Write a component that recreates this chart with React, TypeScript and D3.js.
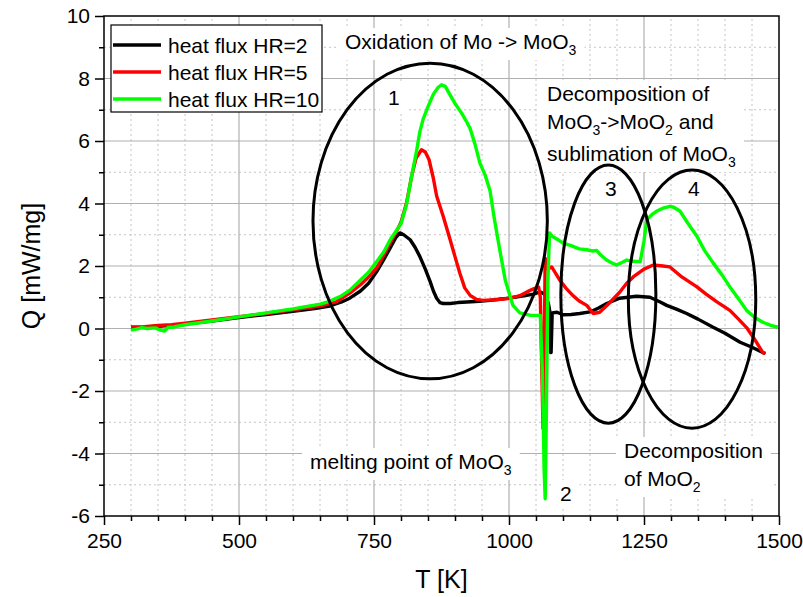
import React, { useEffect, useRef } from 'react';
import * as d3 from 'd3';

type Pt = [number, number];

// T [K], Q [mW/mg]
const hr2: Pt[] = [
  [300, 0.03], [325, 0.04], [350, 0.07], [375, 0.1], [400, 0.14], [450, 0.24], [500, 0.35],
  [550, 0.45], [600, 0.55], [640, 0.64], [668, 0.72], [690, 0.85], [705, 0.97], [725, 1.2],
  [740, 1.45], [755, 1.82], [768, 2.2], [780, 2.58], [790, 2.9], [798, 3.06], [805, 3.0],
  [817, 2.84], [826, 2.6], [835, 2.3], [845, 1.9], [854, 1.5], [860, 1.2], [866, 0.97],
  [872, 0.83], [878, 0.8], [891, 0.8], [905, 0.83], [922, 0.85], [945, 0.87], [965, 0.9],
  [990, 0.95], [1010, 1.0], [1030, 1.05], [1045, 1.1], [1058, 1.17], [1066, 1.1], [1073, 0.8],
  [1076, 0.5], [1077, -0.77], [1078, -0.77], [1080, 0.5], [1089, 0.52], [1100, 0.44],
  [1115, 0.45], [1131, 0.48], [1150, 0.53], [1165, 0.65], [1181, 0.8], [1205, 0.97],
  [1236, 1.03], [1261, 1.0], [1280, 0.85], [1292, 0.74], [1310, 0.62], [1329, 0.48],
  [1350, 0.3], [1378, 0.04], [1400, -0.15], [1428, -0.44], [1450, -0.6], [1470, -0.77],
  [1475, -0.8],
];

const hr5: Pt[] = [
  [300, 0.05], [325, 0.06], [350, 0.1], [375, 0.12], [400, 0.17], [450, 0.27], [500, 0.38],
  [550, 0.48], [600, 0.6], [650, 0.72], [680, 0.85], [705, 1.13], [725, 1.4], [740, 1.65],
  [755, 1.94], [768, 2.35], [780, 2.74], [790, 3.05], [800, 3.4], [810, 4.0], [820, 4.9],
  [828, 5.45], [838, 5.72], [845, 5.65], [852, 5.4], [860, 4.8], [866, 4.24], [878, 3.6],
  [891, 2.84], [900, 2.3], [909, 1.77], [918, 1.3], [928, 1.06], [940, 0.93], [952, 0.9],
  [975, 0.92], [1002, 0.97], [1020, 1.05], [1039, 1.22], [1050, 1.3], [1055, 1.32],
  [1058, 1.0], [1061, -1.5], [1063, -3.2], [1065, -1.0], [1067, 2.25], [1069, 2.0],
  [1072, 1.9], [1079, 1.97], [1087, 1.75], [1094, 1.55], [1105, 1.3], [1118, 1.06],
  [1130, 0.88], [1144, 0.74], [1156, 0.48], [1168, 0.52], [1185, 0.8], [1205, 1.16],
  [1218, 1.45], [1230, 1.65], [1250, 1.9], [1267, 2.03], [1285, 2.0], [1298, 1.97],
  [1320, 1.65], [1348, 1.33], [1365, 1.1], [1385, 0.85], [1409, 0.58], [1425, 0.3],
  [1440, 0.03], [1455, -0.35], [1470, -0.77], [1475, -0.8],
];

const hr10: Pt[] = [
  [300, -0.05], [310, -0.02], [320, 0.03], [330, 0.0], [345, 0.02], [355, -0.05], [362, -0.08],
  [368, 0.03], [380, 0.05], [400, 0.12], [450, 0.24], [500, 0.37], [550, 0.5], [600, 0.63],
  [650, 0.78], [668, 0.87], [690, 1.05], [705, 1.22], [725, 1.55], [740, 1.8], [755, 2.14],
  [768, 2.45], [780, 2.84], [790, 3.1], [800, 3.35], [810, 3.95], [820, 4.9], [829, 5.7],
  [835, 6.3], [841, 6.7], [850, 7.1], [860, 7.5], [869, 7.72], [875, 7.8], [882, 7.75],
  [890, 7.5], [900, 7.2], [912, 6.9], [922, 6.6], [928, 6.4], [937, 5.9], [946, 5.3],
  [956, 4.9], [965, 4.4], [972, 3.6], [980, 2.8], [993, 1.55], [1007, 0.75], [1020, 0.5],
  [1040, 0.42], [1058, 0.42], [1062, -1.5], [1065, -4.5], [1067, -5.45], [1069, -3.0],
  [1072, 1.5], [1075, 3.06], [1080, 2.95], [1090, 2.85], [1100, 2.73], [1115, 2.65],
  [1130, 2.55], [1144, 2.52], [1155, 2.48], [1162, 2.5], [1170, 2.35], [1180, 2.2],
  [1190, 2.1], [1199, 2.03], [1210, 2.12], [1218, 2.19], [1230, 2.15], [1243, 2.14],
  [1250, 2.8], [1255, 3.48], [1265, 3.65], [1273, 3.75], [1285, 3.85], [1298, 3.91],
  [1305, 3.88], [1317, 3.75], [1330, 3.4], [1348, 2.95], [1362, 2.5], [1378, 2.1],
  [1395, 1.7], [1409, 1.33], [1425, 0.95], [1440, 0.58], [1455, 0.35], [1470, 0.2],
  [1485, 0.1], [1498, 0.04],
];

const seriesNames = ['heat flux HR=2', 'heat flux HR=5', 'heat flux HR=10'];
const seriesColors = ['#000000', '#ff0000', '#00ff00'];

const xTicks = [250, 500, 750, 1000, 1250, 1500];
const yTicks = [-6, -4, -2, 0, 2, 4, 6, 8, 10];

// circled regions: centre T, centre Q, half width (K), half height (mW/mg)
const regions: [number, number, number, number][] = [
  [854, 3.44, 217, 5.05],
  [1184, 1.1, 88, 4.13],
  [1339, 0.94, 118, 4.13],
];

const FONT = '"Liberation Sans", Arial, sans-serif';

// text parts: [string, subscript?]
type Part = [string, boolean?];
const notes: { x: number; y: number; lines: Part[][] }[] = [
  { x: 345, y: 49, lines: [[['Oxidation of Mo -> MoO'], ['3', true]]] },
  { x: 388, y: 105, lines: [[['1']]] },
  {
    x: 547, y: 101, lines: [
      [['Decomposition of']],
      [['MoO'], ['3', true], ['->MoO'], ['2', true], [' and']],
      [['sublimation of MoO'], ['3', true]],
    ],
  },
  { x: 605, y: 196, lines: [[['3']]] },
  { x: 688, y: 196, lines: [[['4']]] },
  { x: 310, y: 469, lines: [[['melting point of MoO'], ['3', true]]] },
  { x: 560, y: 501, lines: [[['2']]] },
  { x: 624, y: 458, lines: [[['Decomposition']], [['of MoO'], ['2', true]]] },
];
const lineGaps = [0, 28, 60];

const App = () => {
  const svgRef = useRef<SVGSVGElement>(null);

  useEffect(() => {
    const svg = d3.select(svgRef.current);
    svg.selectAll('*').remove();

    const width = 803;
    const height = 597;
    const margin = { top: 16, right: 24, bottom: 81, left: 104 };
    const x = d3.scaleLinear().domain([250, 1500]).range([margin.left, width - margin.right]);
    const y = d3.scaleLinear().domain([-6, 10]).range([height - margin.bottom, margin.top]);
    const [x0, x1] = x.range();
    const [y0, y1] = y.range();

    // grid
    const grid = svg.append('g');
    const xMinor = d3.range(300, 1500, 50).filter(v => v % 250 !== 0);
    const yMinor = d3.range(-5, 10, 2);
    grid.selectAll('.xm').data(xMinor).enter().append('line')
      .attr('x1', d => x(d)).attr('x2', d => x(d)).attr('y1', y0).attr('y2', y1)
      .style('stroke', '#c4c4c4').style('stroke-dasharray', '2,3');
    grid.selectAll('.ym').data(yMinor).enter().append('line')
      .attr('y1', d => y(d)).attr('y2', d => y(d)).attr('x1', x0).attr('x2', x1)
      .style('stroke', '#c4c4c4').style('stroke-dasharray', '2,3');
    grid.selectAll('.xM').data(xTicks.slice(1, -1)).enter().append('line')
      .attr('x1', d => x(d)).attr('x2', d => x(d)).attr('y1', y0).attr('y2', y1)
      .style('stroke', '#b0b0b0').style('stroke-width', 1.2);
    grid.selectAll('.yM').data(yTicks.slice(1, -1)).enter().append('line')
      .attr('y1', d => y(d)).attr('y2', d => y(d)).attr('x1', x0).attr('x2', x1)
      .style('stroke', '#b0b0b0').style('stroke-width', 1.2);

    const bgLayer = svg.append('g');
    const curveLayer = svg.append('g');
    const ellipseLayer = svg.append('g');
    const textLayer = svg.append('g');

    // curves
    const line = d3.line<Pt>().x(d => x(d[0])).y(d => y(d[1]));
    [hr2, hr5, hr10].forEach((s, i) => {
      curveLayer.append('path')
        .attr('d', line(s))
        .style('fill', 'none')
        .style('stroke', seriesColors[i])
        .style('stroke-width', 3.4)
        .style('stroke-linejoin', 'round');
    });

    // ellipses
    ellipseLayer.selectAll('ellipse').data(regions).enter().append('ellipse')
      .attr('cx', d => x(d[0]))
      .attr('cy', d => y(d[1]))
      .attr('rx', d => x(d[0] + d[2]) - x(d[0]))
      .attr('ry', d => y(d[1] - d[3]) - y(d[1]))
      .style('fill', 'none')
      .style('stroke', '#000')
      .style('stroke-width', 3);

    // annotations with white backing
    notes.forEach(n => {
      const g = textLayer.append('g');
      n.lines.forEach((ln, li) => {
        const t = g.append('text')
          .attr('x', n.x).attr('y', n.y + lineGaps[li])
          .style('font-family', FONT).style('font-size', '21px')
          .style('white-space', 'pre').style('fill', '#000');
        let low = false;
        ln.forEach(([str, sub]) => {
          const ts = t.append('tspan').text(str);
          if (sub && !low) { ts.attr('dy', 6).style('font-size', '14px'); low = true; }
          else if (sub) ts.style('font-size', '14px');
          else if (low) { ts.attr('dy', -6); low = false; }
        });
      });
      const bb = (g.node() as SVGGElement).getBBox();
      bgLayer.append('rect')
        .attr('x', bb.x - 8).attr('y', bb.y - 2)
        .attr('width', bb.width + 16).attr('height', bb.height + 4)
        .style('fill', '#fff');
    });

    // frame
    svg.append('rect')
      .attr('x', x0).attr('y', y1).attr('width', x1 - x0).attr('height', y0 - y1)
      .style('fill', 'none').style('stroke', '#000').style('stroke-width', 1.5);

    // axes
    const styleAxis = (g: any) => {
      g.select('.domain').remove();
      g.selectAll('line').style('stroke', '#000').style('stroke-width', 1.5);
      g.selectAll('text').style('font-family', FONT).style('font-size', '21px').style('fill', '#000');
    };
    svg.append('g').attr('transform', `translate(0,${y0})`)
      .call(d3.axisBottom(x).tickValues(xTicks).tickSize(9).tickPadding(8).tickFormat(d => String(d)))
      .call(styleAxis);
    svg.append('g').attr('transform', `translate(0,${y0})`)
      .call(d3.axisBottom(x).tickValues(xMinor).tickSize(5).tickFormat(() => ''))
      .call(styleAxis);
    svg.append('g').attr('transform', `translate(${x0},0)`)
      .call(d3.axisLeft(y).tickValues(yTicks).tickSize(9).tickPadding(5).tickFormat(d => String(d)))
      .call(styleAxis);
    svg.append('g').attr('transform', `translate(${x0},0)`)
      .call(d3.axisLeft(y).tickValues(yMinor).tickSize(5).tickFormat(() => ''))
      .call(styleAxis);

    // axis titles
    svg.append('text')
      .attr('x', (x0 + x1) / 2).attr('y', 588)
      .attr('text-anchor', 'middle')
      .style('font-family', FONT).style('font-size', '25px')
      .text('T [K]');
    svg.append('text')
      .attr('transform', `translate(40,${(y0 + y1) / 2}) rotate(-90)`)
      .attr('text-anchor', 'middle')
      .style('font-family', FONT).style('font-size', '25px')
      .text('Q [mW/mg]');

    // legend
    const legend = svg.append('g');
    legend.append('rect')
      .attr('x', 111).attr('y', 25).attr('width', 211).attr('height', 87)
      .style('fill', '#fff').style('stroke', '#000').style('stroke-width', 1.2);
    seriesNames.forEach((name, i) => {
      const ly = 45 + i * 27;
      legend.append('line')
        .attr('x1', 113).attr('x2', 161).attr('y1', ly).attr('y2', ly)
        .style('stroke', seriesColors[i]).style('stroke-width', 3.5);
      legend.append('text')
        .attr('x', 168).attr('y', ly + 8)
        .style('font-family', FONT).style('font-size', '21px')
        .text(name);
    });
  }, []);

  return (
    <svg ref={svgRef} width={803} height={597}
      style={{ position: 'absolute', left: 0, top: 0, background: '#fff' }} />
  );
};

export default App;
